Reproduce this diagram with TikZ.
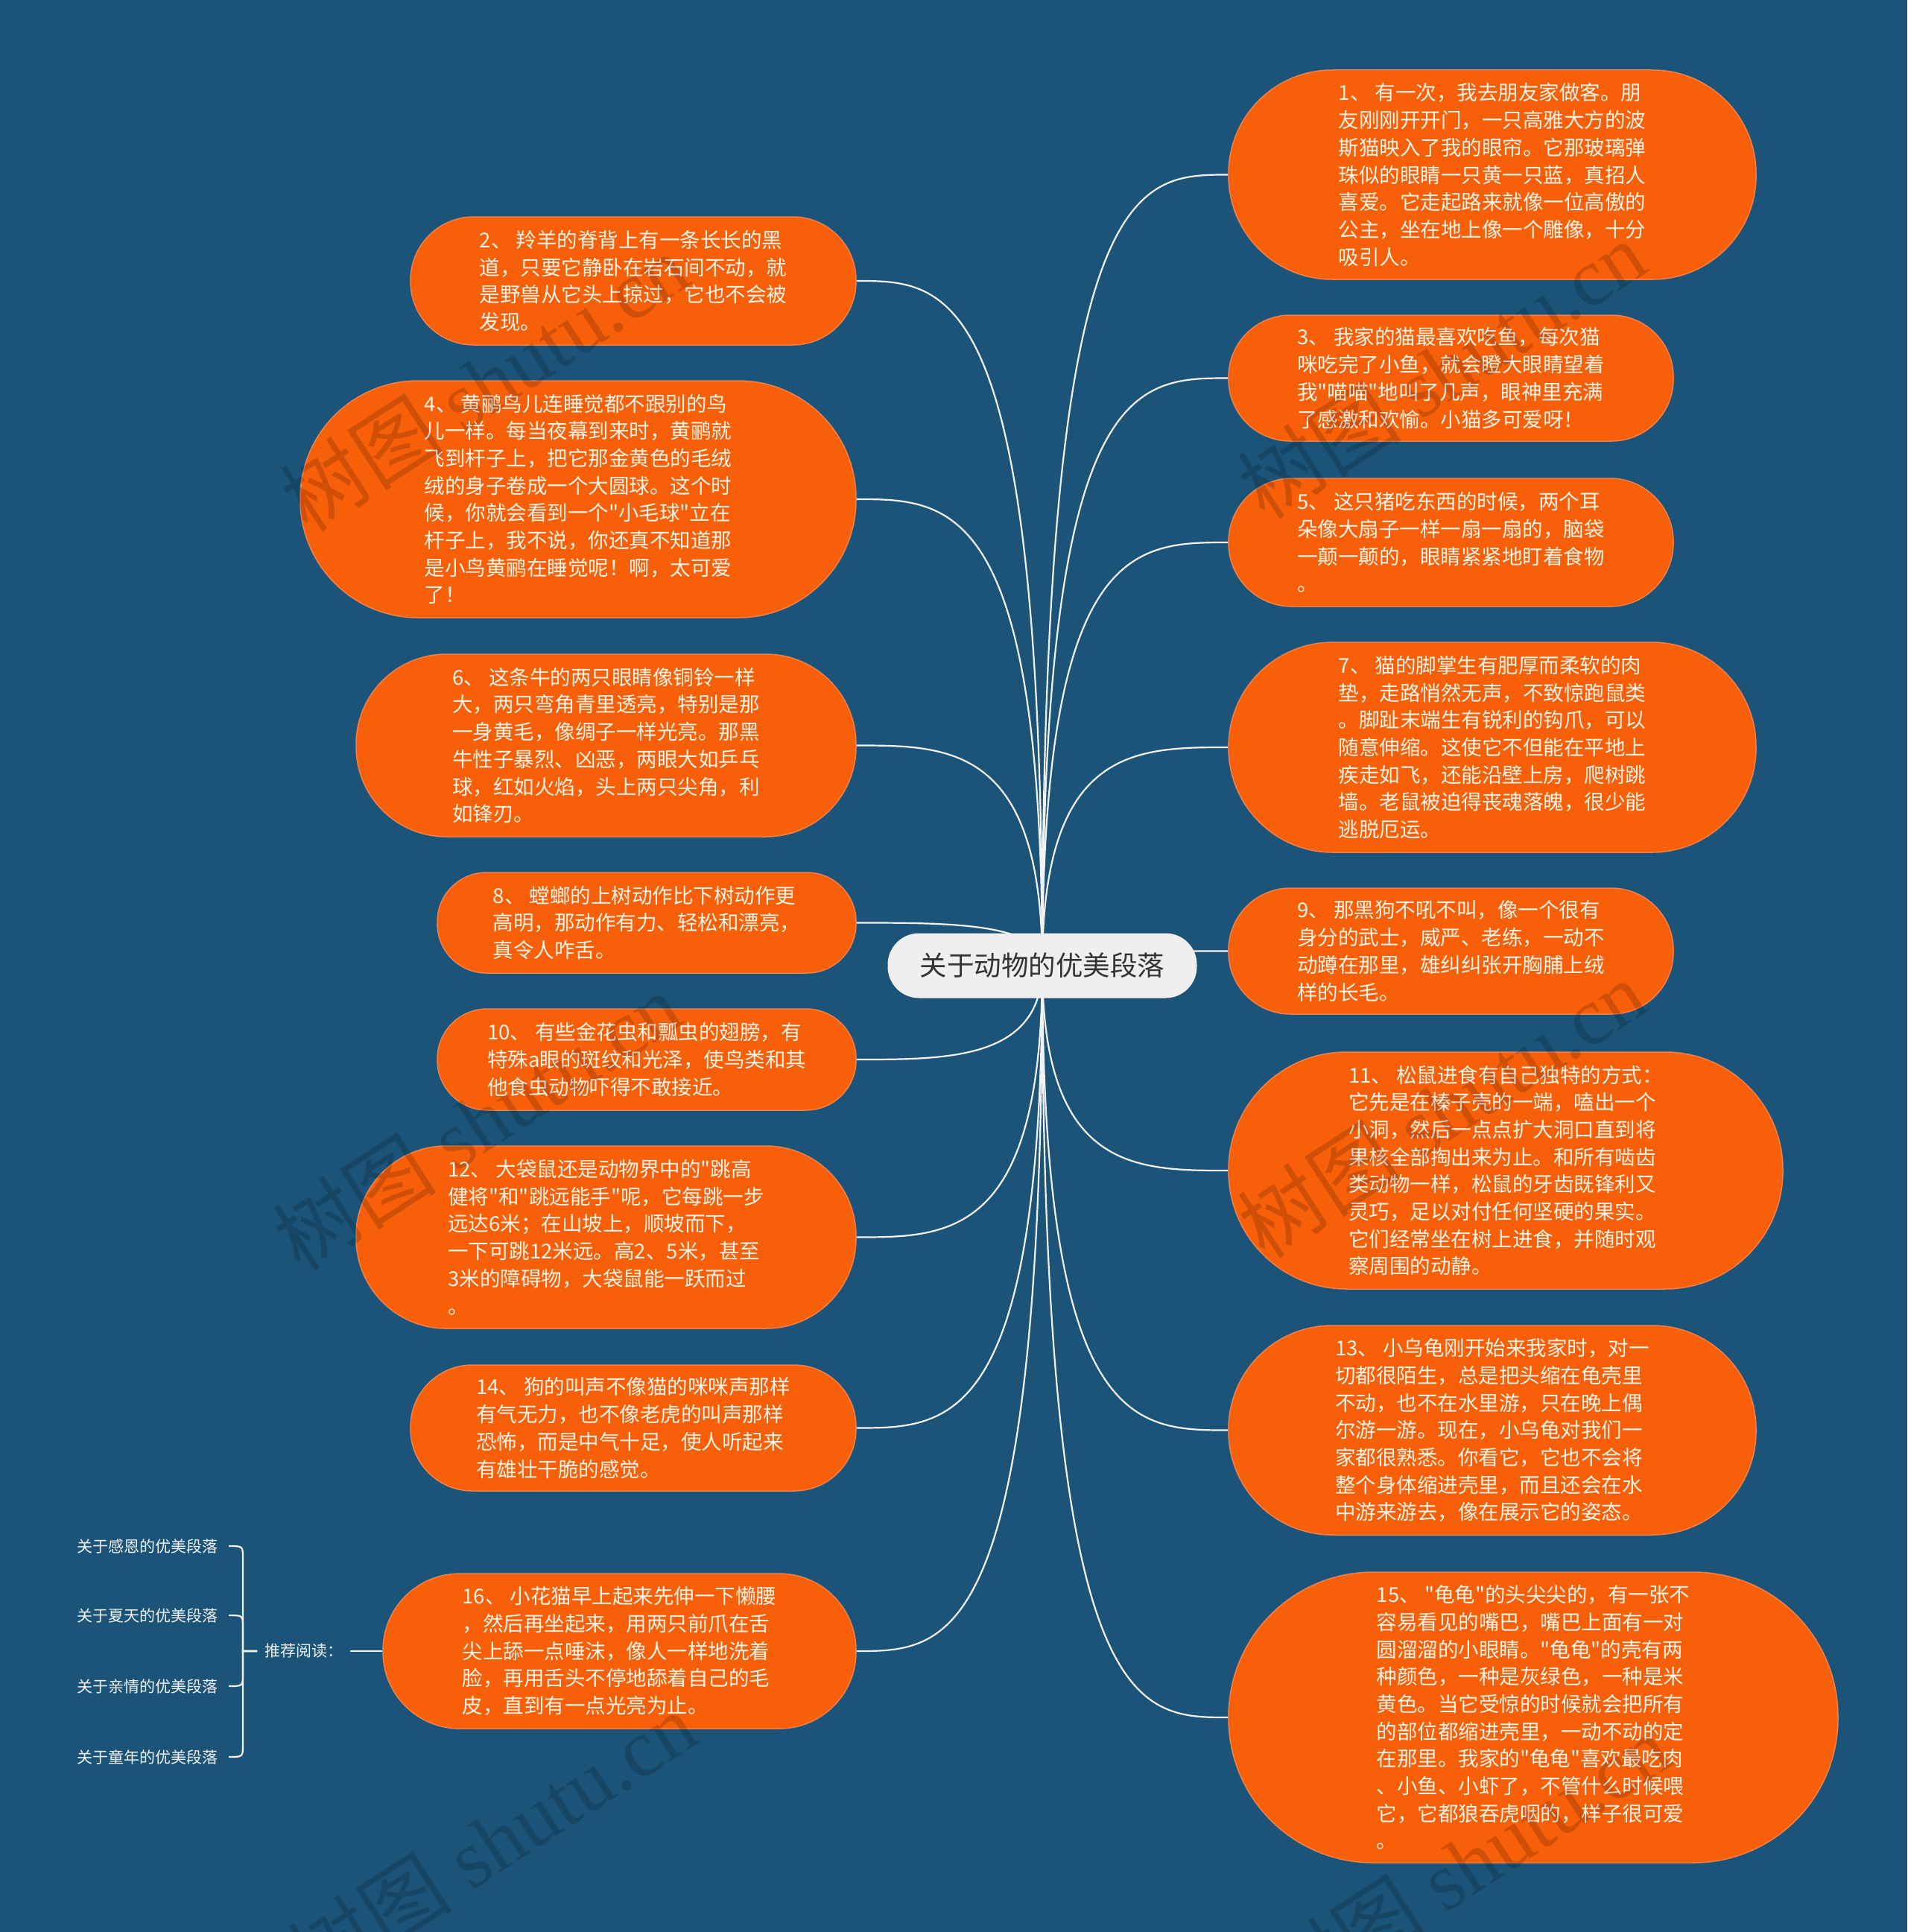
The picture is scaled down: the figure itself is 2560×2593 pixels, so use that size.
\documentclass[tikz,border=0pt]{standalone}
\usepackage{fontspec}
\setmainfont{Noto Sans CJK SC}[Ligatures=TeXOff]
\newfontfamily\wmlatin{Liberation Serif}
\usetikzlibrary{calc}
\definecolor{bg}{HTML}{1B5478}
\definecolor{leafbg}{HTML}{F75F08}
\definecolor{leafedge}{HTML}{F2804A}
\definecolor{leaftext}{HTML}{FDF3E6}
\definecolor{rootbg}{HTML}{EFEFEF}
\definecolor{roottext}{HTML}{333333}
\definecolor{linkcol}{HTML}{F2F2F2}
\pgfdeclarelayer{bgfill}
\pgfdeclarelayer{links}
\pgfdeclarelayer{top}
\pgfsetlayers{bgfill,links,main,top}
\begin{document}
\begin{tikzpicture}[x=1pt,y=-1pt,
  leaf/.style n args={3}{rectangle, fill=leafbg, draw=leafedge, line width=1.5pt,
    minimum width=#1, minimum height=#2, rounded corners=#3, inner sep=0pt,
    text=leaftext, align=left, font=\fontsize{27.5}{36.7}\selectfont},
  root/.style={rectangle, fill=rootbg, draw=none, minimum width=415pt, minimum height=87pt,
    rounded corners=42pt, inner sep=0pt, text=roottext, font=\fontsize{36.5}{40}\selectfont},
  link/.style={draw=linkcol, line width=2.2pt},
  brace/.style={draw=linkcol, line width=2.2pt},
  item/.style={text=linkcol, inner xsep=14pt, inner ysep=2pt, font=\fontsize{21}{24}\selectfont},
  wm/.style={text=black, text opacity=0.16, font=\fontsize{110}{110}\selectfont, inner sep=0pt}
]
\begin{pgfonlayer}{bgfill}
\fill[bg] (0,0) rectangle (2560,2593);
\end{pgfonlayer}
\useasboundingbox (0,0) rectangle (2560,2593);

% root
\node[root] (c) at (1399,1296) {关于动物的优美段落};

% right side
\node[leaf={708pt}{281pt}{139pt}] (n1) at (2003,234.5) {1、 有一次，我去朋友家做客。朋\\友刚刚开开门，一只高雅大方的波\\斯猫映入了我的眼帘。它那玻璃弹\\珠似的眼睛一只黄一只蓝，真招人\\喜爱。它走起路来就像一位高傲的\\公主，坐在地上像一个雕像，十分\\吸引人。};
\node[leaf={597pt}{169pt}{83pt}] (n3) at (1947.5,507.5) {3、 我家的猫最喜欢吃鱼，每次猫\\咪吃完了小鱼，就会瞪大眼睛望着\\我"喵喵"地叫了几声，眼神里充满\\了感激和欢愉。小猫多可爱呀！};
\node[leaf={597pt}{172pt}{85pt}] (n5) at (1947.5,728) {5、 这只猪吃东西的时候，两个耳\\朵像大扇子一样一扇一扇的，脑袋\\一颠一颠的，眼睛紧紧地盯着食物\\。};
\node[leaf={708pt}{282pt}{140pt}] (n7) at (2003,1003) {7、 猫的脚掌生有肥厚而柔软的肉\\垫，走路悄然无声，不致惊跑鼠类\\。脚趾末端生有锐利的钩爪，可以\\随意伸缩。这使它不但能在平地上\\疾走如飞，还能沿壁上房，爬树跳\\墙。老鼠被迫得丧魂落魄，很少能\\逃脱厄运。};
\node[leaf={597pt}{169pt}{83pt}] (n9) at (1947.5,1276.5) {9、 那黑狗不吼不叫，像一个很有\\身分的武士，威严、老练，一动不\\动蹲在那里，雄纠纠张开胸脯上绒\\样的长毛。};
\node[leaf={744pt}{318pt}{158pt}] (n11) at (2021,1571) {11、 松鼠进食有自己独特的方式：\\它先是在榛子壳的一端，嗑出一个\\小洞，然后一点点扩大洞口直到将\\果核全部掏出来为止。和所有啮齿\\类动物一样，松鼠的牙齿既锋利又\\灵巧，足以对付任何坚硬的果实。\\它们经常坐在树上进食，并随时观\\察周围的动静。};
\node[leaf={708pt}{281pt}{139pt}] (n13) at (2003,1919.5) {13、 小乌龟刚开始来我家时，对一\\切都很陌生，总是把头缩在龟壳里\\不动，也不在水里游，只在晚上偶\\尔游一游。现在，小乌龟对我们一\\家都很熟悉。你看它，它也不会将\\整个身体缩进壳里，而且还会在水\\中游来游去，像在展示它的姿态。};
\node[leaf={818pt}{390pt}{194pt}] (n15) at (2058,2305) {15、 "龟龟"的头尖尖的，有一张不\\容易看见的嘴巴，嘴巴上面有一对\\圆溜溜的小眼睛。"龟龟"的壳有两\\种颜色，一种是灰绿色，一种是米\\黄色。当它受惊的时候就会把所有\\的部位都缩进壳里，一动不动的定\\在那里。我家的"龟龟"喜欢最吃肉\\、小鱼、小虾了，不管什么时候喂\\它，它都狼吞虎咽的，样子很可爱\\。};

% left side
\node[leaf={598pt}{172pt}{85pt}] (n2) at (850,377) {2、 羚羊的脊背上有一条长长的黑\\道，只要它静卧在岩石间不动，就\\是野兽从它头上掠过，它也不会被\\发现。};
\node[leaf={746pt}{318pt}{158pt}] (n4) at (776,670) {4、 黄鹂鸟儿连睡觉都不跟别的鸟\\儿一样。每当夜幕到来时，黄鹂就\\飞到杆子上，把它那金黄色的毛绒\\绒的身子卷成一个大圆球。这个时\\候，你就会看到一个"小毛球"立在\\杆子上，我不说，你还真不知道那\\是小鸟黄鹂在睡觉呢！啊，太可爱\\了！};
\node[leaf={671pt}{245pt}{121pt}] (n6) at (813.5,1000.5) {6、 这条牛的两只眼睛像铜铃一样\\大，两只弯角青里透亮，特别是那\\一身黄毛，像绸子一样光亮。那黑\\牛性子暴烈、凶恶，两眼大如乒乓\\球，红如火焰，头上两只尖角，利\\如锋刃。};
\node[leaf={562pt}{135pt}{66pt}] (n8) at (868,1238.5) {8、 螳螂的上树动作比下树动作更\\高明，那动作有力、轻松和漂亮，\\真令人咋舌。};
\node[leaf={562pt}{136pt}{67pt}] (n10) at (868,1422) {10、 有些金花虫和瓢虫的翅膀，有\\特殊a眼的斑纹和光泽，使鸟类和其\\他食虫动物吓得不敢接近。};
\node[leaf={671pt}{245pt}{121pt}] (n12) at (813.5,1660.5) {12、 大袋鼠还是动物界中的"跳高\\健将"和"跳远能手"呢，它每跳一步\\远达6米；在山坡上，顺坡而下，\\一下可跳12米远。高2、5米，甚至\\3米的障碍物，大袋鼠能一跃而过\\。};
\node[leaf={598pt}{169pt}{83pt}] (n14) at (850,1916.5) {14、 狗的叫声不像猫的咪咪声那样\\有气无力，也不像老虎的叫声那样\\恐怖，而是中气十足，使人听起来\\有雄壮干脆的感觉。};
\node[leaf={635pt}{208pt}{103pt}] (n16) at (831.5,2216) {16、 小花猫早上起来先伸一下懒腰\\，然后再坐起来，用两只前爪在舌\\尖上舔一点唾沫，像人一样地洗着\\脸，再用舌头不停地舔着自己的毛\\皮，直到有一点光亮为止。};

% links
\begin{pgfonlayer}{links}
\foreach \n in {n1,n3,n5,n7,n9,n11,n13,n15}
  \draw[link] (c.center) .. controls (c.center |- \n.west) and ($(c.center |- \n.west)!0.5!(\n.west)$) .. (\n.west);
\foreach \n in {n2,n4,n6,n8,n10,n12,n14,n16}
  \draw[link] (c.center) .. controls (c.center |- \n.east) and ($(c.center |- \n.east)!0.5!(\n.east)$) .. (\n.east);
\end{pgfonlayer}

% recommended reading
\node[item, anchor=west, inner xsep=10pt] (rec) at (345,2216) {推荐阅读：};
\node[item, anchor=east] (r1) at (307,2075) {关于感恩的优美段落};
\node[item, anchor=east] (r2) at (307,2168) {关于夏天的优美段落};
\node[item, anchor=east] (r3) at (307,2263) {关于亲情的优美段落};
\node[item, anchor=east] (r4) at (307,2358) {关于童年的优美段落};
\coordinate (br) at (326,2216);
\draw[brace] (rec.east) -- (n16.west);
\foreach \i/\s in {r1/1,r2/1,r3/-1,r4/-1}
  \draw[brace] (\i.east) .. controls (br |- \i.east) .. ($(br |- \i.east)+(0,\s*16)$) -- (br) -- (rec.west);

% watermarks
\begin{pgfonlayer}{top}
\foreach \p in {(650,513),(1935,496),(640,1505),(1935,1488),(661,2470),(1968,2500)}
  \node[wm, rotate=33] at \p {树图\hspace{0.25em}{\wmlatin shutu.cn}};
\end{pgfonlayer}
\end{tikzpicture}
\end{document}
